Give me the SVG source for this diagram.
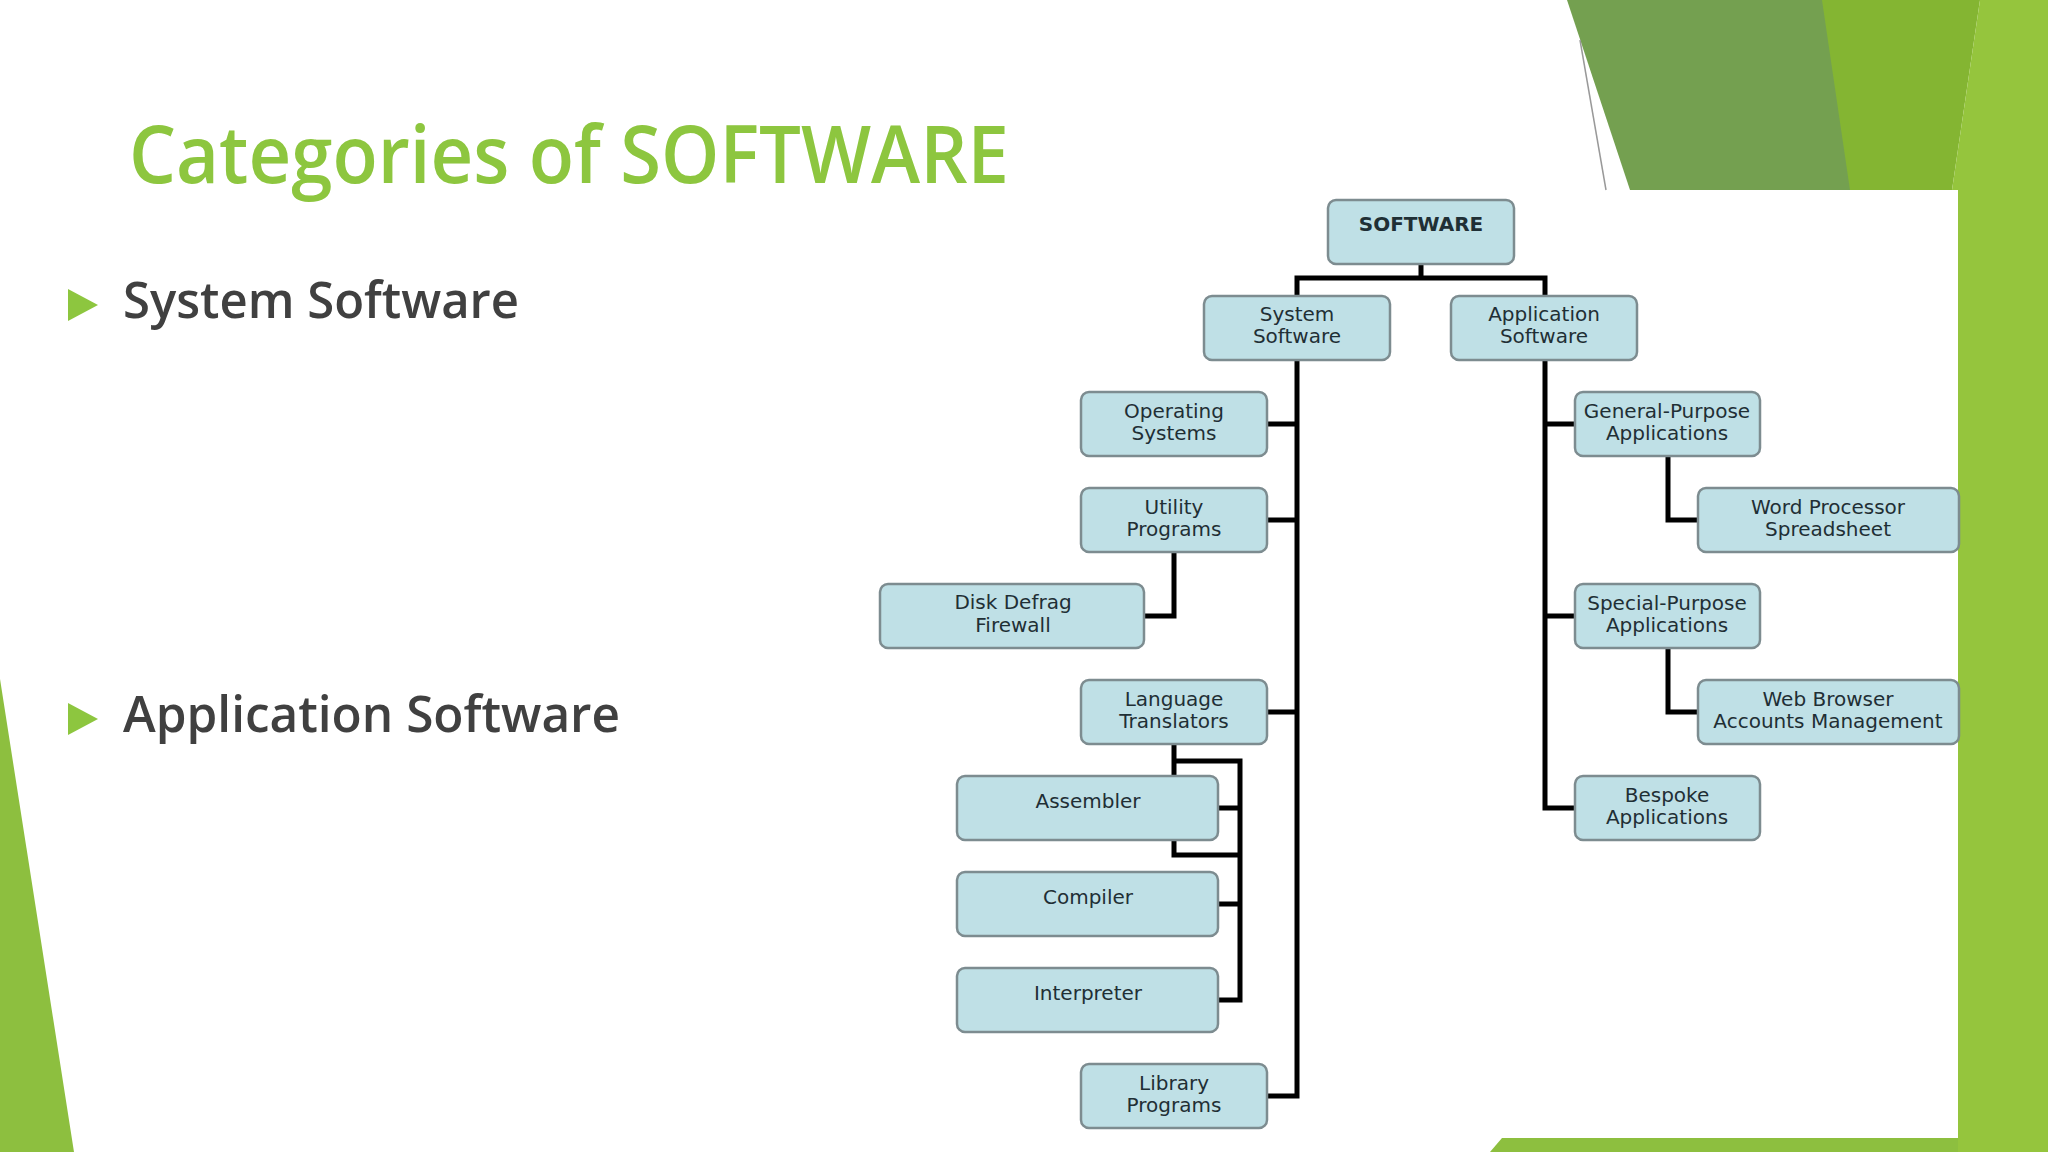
<svg xmlns="http://www.w3.org/2000/svg" width="2048" height="1152" viewBox="0 0 2048 1152">
<style>
.n rect{fill:#bfe0e6;stroke:#7d8c90;stroke-width:2.5}
.n text{font-family:"DejaVu Sans",Verdana,sans-serif;font-size:20px;fill:#1f2f35;text-anchor:middle}
.c path{fill:none;stroke:#000;stroke-width:5}
.b{font-family:"Open Sans","Liberation Sans",sans-serif;font-size:50px;font-weight:600;fill:#404040}
</style>
<rect width="2048" height="1152" fill="#fff"/>
<polygon points="1567,0 1830,0 1858,190 1630,190" fill="#74a050"/>
<polygon points="1822,0 1980,0 1952,190 1850,190" fill="#84b532"/>
<polygon points="1980,0 2048,0 2048,1152 1958,1152 1958,190 1952,190" fill="#95c53d"/>
<polygon points="1502,1138 1958,1138 1958,1152 1490,1152" fill="#8dbf3f"/>
<polygon points="0,679 74,1152 0,1152" fill="#8dbf3f"/>
<line x1="1580" y1="40" x2="1606" y2="190" stroke="#999" stroke-width="1.5"/>
<text x="129" y="183" font-family="'Open Sans','Liberation Sans',sans-serif" font-size="80" font-weight="600" fill="#8dc63f" textLength="880" lengthAdjust="spacingAndGlyphs">Categories of SOFTWARE</text>
<polygon points="68,289 98,305 68,321" fill="#8dc63f"/>
<text class="b" x="123" y="318" textLength="396" lengthAdjust="spacingAndGlyphs">System Software</text>
<polygon points="68,703 98,719 68,735" fill="#8dc63f"/>
<text class="b" x="123" y="732" textLength="497" lengthAdjust="spacingAndGlyphs">Application Software</text>
<g class="c">
<path d="M1421,264V278M1297,296V278H1545V296"/>
<path d="M1297,360V1096H1267M1267,424H1297M1267,520H1297M1267,712H1297"/>
<path d="M1174,552V616H1144"/>
<path d="M1174,744V855H1240M1174,761H1240V1000H1218M1218,808H1240M1218,904H1240"/>
<path d="M1545,360V808H1575M1545,424H1575M1545,616H1575"/>
<path d="M1668,456V520H1698M1668,648V712H1698"/>
</g>
<g id="software" class="n"><rect x="1328" y="200" width="186" height="64" rx="8"/><text x="1421" y="231" font-weight="bold" font-size="23">SOFTWARE</text></g>
<g id="system" class="n"><rect x="1204" y="296" width="186" height="64" rx="8"/><text x="1297" y="321">System</text><text x="1297" y="343">Software</text></g>
<g id="application" class="n"><rect x="1451" y="296" width="186" height="64" rx="8"/><text x="1544" y="321">Application</text><text x="1544" y="343">Software</text></g>
<g id="os" class="n"><rect x="1081" y="392" width="186" height="64" rx="8"/><text x="1174" y="418">Operating</text><text x="1174" y="440">Systems</text></g>
<g id="utility" class="n"><rect x="1081" y="488" width="186" height="64" rx="8"/><text x="1174" y="514">Utility</text><text x="1174" y="536">Programs</text></g>
<g id="disk" class="n"><rect x="880" y="584" width="264" height="64" rx="8"/><text x="1013" y="609">Disk Defrag</text><text x="1013" y="632">Firewall</text></g>
<g id="language" class="n"><rect x="1081" y="680" width="186" height="64" rx="8"/><text x="1174" y="706">Language</text><text x="1174" y="728">Translators</text></g>
<g id="assembler" class="n"><rect x="957" y="776" width="261" height="64" rx="8"/><text x="1088" y="808">Assembler</text></g>
<g id="compiler" class="n"><rect x="957" y="872" width="261" height="64" rx="8"/><text x="1088" y="904">Compiler</text></g>
<g id="interpreter" class="n"><rect x="957" y="968" width="261" height="64" rx="8"/><text x="1088" y="1000">Interpreter</text></g>
<g id="library" class="n"><rect x="1081" y="1064" width="186" height="64" rx="8"/><text x="1174" y="1090">Library</text><text x="1174" y="1112">Programs</text></g>
<g id="general" class="n"><rect x="1575" y="392" width="185" height="64" rx="8"/><text x="1667" y="418">General-Purpose</text><text x="1667" y="440">Applications</text></g>
<g id="word" class="n"><rect x="1698" y="488" width="261" height="64" rx="8"/><text x="1828" y="514">Word Processor</text><text x="1828" y="536">Spreadsheet</text></g>
<g id="special" class="n"><rect x="1575" y="584" width="185" height="64" rx="8"/><text x="1667" y="610">Special-Purpose</text><text x="1667" y="632">Applications</text></g>
<g id="web" class="n"><rect x="1698" y="680" width="261" height="64" rx="8"/><text x="1828" y="706">Web Browser</text><text x="1828" y="728">Accounts Management</text></g>
<g id="bespoke" class="n"><rect x="1575" y="776" width="185" height="64" rx="8"/><text x="1667" y="802">Bespoke</text><text x="1667" y="824">Applications</text></g>
</svg>
